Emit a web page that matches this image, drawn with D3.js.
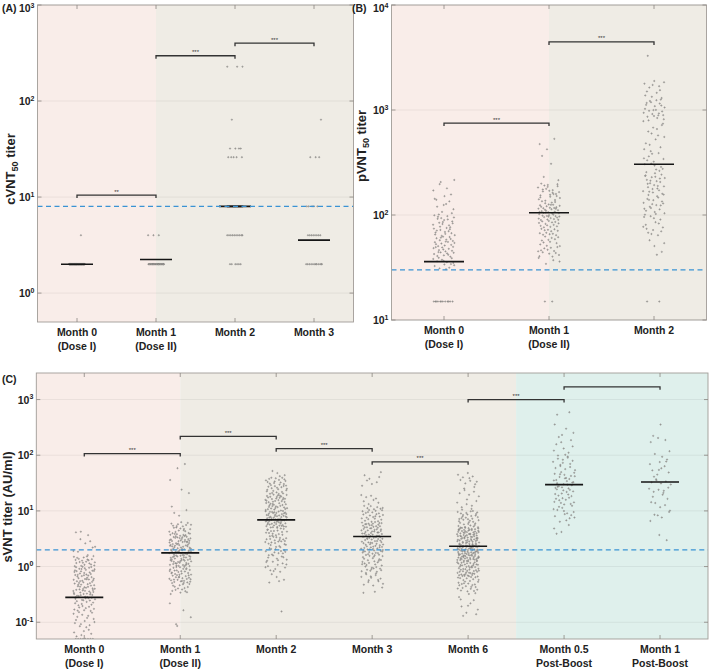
<!DOCTYPE html>
<html>
<head>
<meta charset="utf-8">
<script src="https://cdn.jsdelivr.net/npm/d3@7/dist/d3.min.js"></script>
<style>
    body { margin: 0; background: #fff; }
    svg { display: block; font-family: "Liberation Sans", Arial, sans-serif; }
</style>
</head>
<body>
<div id="chart"></div>
<script>
// ---- panel A: cVNT50 (discrete titer steps) ----
const aCategories = ["Month 0", "Month 1", "Month 2", "Month 3"];
const aSublabels = ["(Dose I)", "(Dose II)", "", ""];
const aTiterLevels = [2, 4, 8, 26, 32, 64, 228];
// number of subjects at each titer level, per visit
const aCounts = [
    [100, 1, 0, 0, 0, 0, 0],
    [30, 3, 0, 0, 0, 0, 0],
    [6, 10, 60, 5, 4, 1, 3],
    [12, 8, 5, 3, 0, 1, 0],
];
const aMeans = [2.0, 2.24, 8.0, 3.56];
const aCutoff = 8;
const aBrackets = [[0, 1, 10.5, "**"], [1, 2, 296, "***"], [2, 3, 400, "***"]];

// ---- panel B: pVNT50 ----
const bCategories = ["Month 0", "Month 1", "Month 2"];
const bSublabels = ["(Dose I)", "(Dose II)", ""];
const bFloorValue = 15;
const bFloorCounts = [12, 2, 2];
// [log10 low, log10 high, count]
const bBins = [
    [[1.48, 1.6, 15], [1.6, 1.8, 35], [1.8, 2.0, 30], [2.0, 2.2, 12], [2.2, 2.36, 5]],
    [[1.53, 1.6, 4], [1.6, 1.8, 25], [1.8, 1.95, 25], [1.95, 2.1, 40], [2.1, 2.3, 30], [2.3, 2.55, 3], [2.55, 2.75, 4]],
    [[1.58, 1.8, 5], [1.8, 2.0, 15], [2.0, 2.2, 22], [2.2, 2.4, 25], [2.4, 2.6, 15], [2.6, 2.9, 15], [2.9, 3.1, 25], [3.1, 3.3, 12], [3.45, 3.52, 1]],
];
const bMeans = [36, 105, 304];
const bCutoff = 30;
const bBrackets = [[0, 1, 750, "***"], [1, 2, 4450, "***"]];

// ---- panel C: sVNT ----
const cCategories = ["Month 0", "Month 1", "Month 2", "Month 3", "Month 6", "Month 0.5", "Month 1"];
const cSublabels = ["(Dose I)", "(Dose II)", "", "", "", "Post-Boost", "Post-Boost"];
const cFloorValue = 0.05;
const cFloorCounts = [8, 0, 0, 0, 0, 0, 0];
const cBins = [
    [[-1.29, -1.1, 6], [-1.1, -0.8, 16], [-0.8, -0.6, 18], [-0.6, -0.3, 42], [-0.3, 0, 42], [0, 0.2, 22], [0.2, 0.5, 8], [0.55, 0.65, 3]],
    [[-1.1, -0.6, 5], [-0.5, -0.3, 15], [-0.3, 0, 45], [0, 0.3, 55], [0.3, 0.6, 55], [0.6, 0.8, 20], [0.9, 1.1, 4], [1.3, 1.4, 2], [1.45, 1.6, 1], [1.7, 1.85, 2]],
    [[-0.85, -0.8, 1], [-0.3, -0.1, 5], [-0.1, 0.1, 12], [0.1, 0.4, 25], [0.4, 0.7, 35], [0.7, 1.0, 60], [1.0, 1.3, 45], [1.3, 1.6, 35], [1.6, 1.75, 4]],
    [[-0.5, -0.35, 3], [-0.35, -0.1, 15], [-0.1, 0.2, 30], [0.2, 0.5, 45], [0.5, 0.8, 50], [0.8, 1.1, 30], [1.1, 1.3, 8], [1.45, 1.7, 8]],
    [[-0.9, -0.45, 12], [-0.45, -0.2, 25], [-0.2, 0.1, 55], [0.1, 0.4, 80], [0.4, 0.7, 70], [0.7, 1.0, 35], [1.0, 1.45, 15], [1.45, 1.7, 10]],
    [[0.3, 0.4, 1], [0.55, 0.8, 4], [0.8, 1.1, 15], [1.1, 1.4, 20], [1.4, 1.7, 25], [1.7, 2.0, 15], [2.0, 2.3, 8], [2.3, 2.6, 5], [2.65, 2.82, 2]],
    [[0.45, 0.6, 2], [0.8, 1.0, 5], [1.0, 1.3, 8], [1.3, 1.6, 12], [1.6, 1.9, 10], [1.9, 2.1, 4], [2.2, 2.35, 4], [2.55, 2.65, 1]],
];
const cMeans = [0.28, 1.76, 6.9, 3.46, 2.32, 29.6, 33];
const cCutoff = 2;
const cBrackets = [[0, 1, 107, "***"], [1, 2, 218, "***"], [2, 3, 131, "***"], [3, 4, 76, "***"], [4, 5, 1000, "***"], [5, 6, 1690, ""]];

const PINK = "#f9ede9", GREY = "#efece5", TEAL = "#dff0ec";

// low-discrepancy sequence, used to spread dots inside a bin and across the jitter band
function halton(i, b) {
    let f = 1, r = 0;
    while (i > 0) {
        f /= b;
        r += f * (i % b);
        i = Math.floor(i / b);
    }
    return r;
}

class TiterPanel {
    constructor(_svg, _config) {
        this.svg = _svg;
        this.config = _config;
        this.initVis();
    }

    initVis() {
        let vis = this;
        let c = vis.config;

        vis.g = vis.svg.append("g").attr("class", "panel-" + c.id);

        vis.x = d3.scaleLinear()
            .domain([-0.5, c.categories.length - 0.5])
            .range([c.left, c.right]);
        vis.y = d3.scaleLog()
            .domain(c.domain)
            .range([c.bottom, c.top]);

        vis.clipId = "clip-" + c.id;
        vis.g.append("clipPath").attr("id", vis.clipId)
            .append("rect")
            .attr("x", c.left).attr("y", c.top)
            .attr("width", c.right - c.left).attr("height", c.bottom - c.top);

        // background phases
        vis.g.selectAll(".band")
            .data(c.bands)
            .enter()
            .append("rect")
            .attr("class", "band")
            .attr("x", d => vis.x(d.from))
            .attr("width", d => vis.x(d.to) - vis.x(d.from))
            .attr("y", c.top)
            .attr("height", c.bottom - c.top)
            .attr("fill", d => d.color);

        // decade grid
        vis.g.selectAll(".grid")
            .data(c.ticks)
            .enter()
            .append("line")
            .attr("class", "grid")
            .attr("x1", c.left).attr("x2", c.right)
            .attr("y1", d => vis.y(d)).attr("y2", d => vis.y(d))
            .attr("stroke", "#000")
            .attr("stroke-opacity", 0.08)
            .attr("stroke-width", 0.8);

        vis.plot = vis.g.append("g").attr("clip-path", `url(#${vis.clipId})`);
        vis.overlay = vis.g.append("g");

        // frame and ticks
        vis.g.append("rect")
            .attr("x", c.left).attr("y", c.top)
            .attr("width", c.right - c.left).attr("height", c.bottom - c.top)
            .attr("fill", "none")
            .attr("stroke", "#a09c98")
            .attr("stroke-width", 0.9);

        let tickLen = 4;
        c.ticks.forEach(t => {
            [[c.left, c.left + tickLen], [c.right, c.right - tickLen]].forEach(p => {
                vis.g.append("line")
                    .attr("x1", p[0]).attr("x2", p[1])
                    .attr("y1", vis.y(t)).attr("y2", vis.y(t))
                    .attr("stroke", "#8a8580").attr("stroke-width", 0.8);
            });
        });
        c.categories.forEach((cat, i) => {
            [[c.top, c.top + tickLen], [c.bottom, c.bottom - tickLen]].forEach(p => {
                vis.g.append("line")
                    .attr("x1", vis.x(i)).attr("x2", vis.x(i))
                    .attr("y1", p[0]).attr("y2", p[1])
                    .attr("stroke", "#8a8580").attr("stroke-width", 0.8);
            });
        });

        // y tick labels: 10^n (kept inside the page at the top edge)
        let yLabels = vis.g.selectAll(".ytick")
            .data(c.ticks)
            .enter()
            .append("text")
            .attr("class", "ytick")
            .attr("x", c.left - 3)
            .attr("y", d => Math.max(vis.y(d) + 4, 12))
            .attr("text-anchor", "end")
            .attr("font-size", 10.5)
            .attr("font-weight", "bold")
            .attr("fill", "#222");
        yLabels.append("tspan").text("10");
        yLabels.append("tspan")
            .attr("dy", -4.5)
            .attr("font-size", 7)
            .text(d => Math.round(Math.log10(d)));

        // category labels
        c.categories.forEach((cat, i) => {
            vis.g.append("text")
                .attr("x", vis.x(i)).attr("y", c.bottom + 14)
                .attr("text-anchor", "middle")
                .attr("font-size", 10.5).attr("font-weight", "bold").attr("fill", "#222")
                .text(cat);
            if (c.sublabels[i]) {
                vis.g.append("text")
                    .attr("x", vis.x(i)).attr("y", c.bottom + 28)
                    .attr("text-anchor", "middle")
                    .attr("font-size", 10.5).attr("font-weight", "bold").attr("fill", "#222")
                    .text(c.sublabels[i]);
            }
        });

        // y axis title
        let title = vis.g.append("text")
            .attr("transform", `translate(${c.titleX}, ${c.titleY}) rotate(-90)`)
            .attr("text-anchor", "middle")
            .attr("font-size", 13).attr("font-weight", "bold").attr("fill", "#222");
        title.append("tspan").text(c.title[0]);
        if (c.title[1]) {
            title.append("tspan").attr("dy", 3).attr("font-size", 9).text(c.title[1]);
            title.append("tspan").attr("dy", -3).text(c.title[2]);
        }

        // panel letter
        vis.g.append("text")
            .attr("x", c.letterX).attr("y", c.letterY)
            .attr("font-size", 10.5).attr("font-weight", "bold").attr("fill", "#222")
            .text(`(${c.id})`);

        vis.wrangleData();
    }

    wrangleData() {
        let vis = this;
        let c = vis.config;
        vis.points = [];

        c.categories.forEach((cat, gi) => {
            let k = gi * 131 + 1;
            // discrete levels (panel A)
            if (c.levels) {
                c.levels.forEach((lv, li) => {
                    for (let n = 0; n < c.counts[gi][li]; n++, k++) {
                        vis.points.push({ group: gi, value: lv, dx: (halton(k, 3) - 0.5) * 2 * c.jitter });
                    }
                });
            }
            // floor value (limit of detection)
            if (c.floorCounts) {
                for (let n = 0; n < c.floorCounts[gi]; n++, k++) {
                    vis.points.push({ group: gi, value: c.floorValue, dx: (halton(k, 3) - 0.5) * 2 * c.jitter });
                }
            }
            // density bins
            if (c.bins) {
                c.bins[gi].forEach(b => {
                    for (let n = 0; n < b[2]; n++, k++) {
                        let lg = b[0] + (b[1] - b[0]) * halton(k, 2);
                        vis.points.push({ group: gi, value: Math.pow(10, lg), dx: (halton(k, 3) - 0.5) * 2 * c.jitter });
                    }
                });
            }
        });

        vis.updateVis();
    }

    updateVis() {
        let vis = this;
        let c = vis.config;

        vis.plot.selectAll(".dot")
            .data(vis.points)
            .enter()
            .append("circle")
            .attr("class", "dot")
            .attr("cx", d => vis.x(d.group) + d.dx)
            .attr("cy", d => vis.y(d.value))
            .attr("r", 0.7)
            .attr("fill", "#b5b2ae")
            .attr("stroke", "#5a5a5a")
            .attr("stroke-width", 0.3);

        // geometric means
        vis.plot.selectAll(".mean")
            .data(c.means)
            .enter()
            .append("line")
            .attr("class", "mean")
            .attr("x1", (d, i) => vis.x(i) - c.meanHalf)
            .attr("x2", (d, i) => vis.x(i) + c.meanHalf)
            .attr("y1", d => vis.y(d)).attr("y2", d => vis.y(d))
            .attr("stroke", "#151515")
            .attr("stroke-width", 1.6);

        // cut-off
        vis.plot.append("line")
            .attr("x1", c.left).attr("x2", c.right)
            .attr("y1", vis.y(c.cutoff)).attr("y2", vis.y(c.cutoff))
            .attr("stroke", "#3a93d4")
            .attr("stroke-width", 1.3)
            .attr("stroke-dasharray", "5,3.5");

        // significance brackets
        c.brackets.forEach(b => {
            let x1 = vis.x(b[0]), x2 = vis.x(b[1]), yy = vis.y(b[2]);
            vis.overlay.append("path")
                .attr("d", `M${x1},${yy + 3}V${yy}H${x2}V${yy + 3}`)
                .attr("fill", "none")
                .attr("stroke", "#333")
                .attr("stroke-width", 1.3);
            if (b[3]) {
                vis.overlay.append("text")
                    .attr("x", (x1 + x2) / 2).attr("y", yy - 1.5)
                    .attr("text-anchor", "middle")
                    .attr("font-size", 6).attr("fill", "#333")
                    .text(b[3]);
            }
        });
    }
}

let svg = d3.select("#chart").append("svg")
    .attr("width", 709)
    .attr("height", 671);

new TiterPanel(svg, {
    id: "A", left: 37.5, right: 353.5, top: 5, bottom: 322,
    domain: [0.5, 1000], ticks: [1, 10, 100, 1000],
    categories: aCategories, sublabels: aSublabels,
    bands: [{ from: -0.5, to: 1, color: PINK }, { from: 1, to: 3.5, color: GREY }],
    levels: aTiterLevels, counts: aCounts,
    means: aMeans, cutoff: aCutoff, brackets: aBrackets,
    jitter: 8, meanHalf: 16,
    title: ["cVNT", "50", " titer"], titleX: 15, titleY: 169,
    letterX: 2, letterY: 12,
});

new TiterPanel(svg, {
    id: "B", left: 391.5, right: 706.5, top: 5, bottom: 320,
    domain: [10, 10000], ticks: [10, 100, 1000, 10000],
    categories: bCategories, sublabels: bSublabels,
    bands: [{ from: -0.5, to: 1, color: PINK }, { from: 1, to: 2.5, color: GREY }],
    floorValue: bFloorValue, floorCounts: bFloorCounts, bins: bBins,
    means: bMeans, cutoff: bCutoff, brackets: bBrackets,
    jitter: 11, meanHalf: 20,
    title: ["pVNT", "50", " titer"], titleX: 366, titleY: 146,
    letterX: 352, letterY: 12,
});

new TiterPanel(svg, {
    id: "C", left: 36.3, right: 708, top: 373, bottom: 639,
    domain: [0.05, 3000], ticks: [0.1, 1, 10, 100, 1000],
    categories: cCategories, sublabels: cSublabels,
    bands: [{ from: -0.5, to: 1, color: PINK }, { from: 1, to: 4.5, color: GREY }, { from: 4.5, to: 6.5, color: TEAL }],
    floorValue: cFloorValue, floorCounts: cFloorCounts, bins: cBins,
    means: cMeans, cutoff: cCutoff, brackets: cBrackets,
    jitter: 11, meanHalf: 19,
    title: ["sVNT titer (AU/ml)"], titleX: 12, titleY: 507,
    letterX: 2, letterY: 383,
});
</script>
</body>
</html>
